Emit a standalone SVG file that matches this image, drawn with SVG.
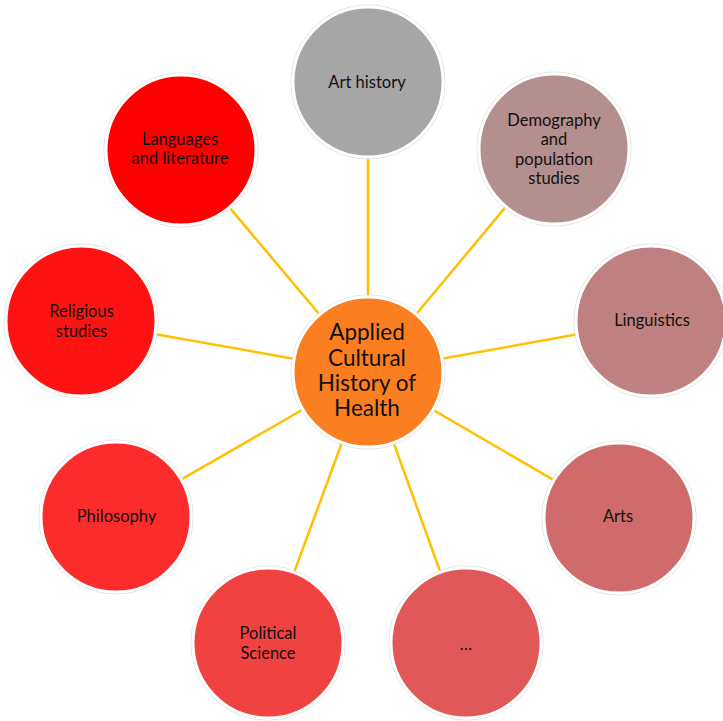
<svg xmlns="http://www.w3.org/2000/svg" width="723" height="721" viewBox="0 0 723 721">
<style>
.bg{fill:#ffffff}
.halo{fill:none;stroke:#d9d9d9;stroke-width:0.8}
.node{stroke:#ffffff;stroke-width:3}
.lbl{font-family:Lato,"Open Sans","Liberation Sans",sans-serif;font-size:16.5px;fill:#111111;text-anchor:middle}
.ctr{font-size:22.5px}
.conn line{stroke:#FFC000;stroke-width:2.5}
</style>
<rect class="bg" x="0" y="0" width="723" height="721"/>
<g id="connectors" class="conn">
<line x1="368" y1="372" x2="368" y2="82"/>
<line x1="368" y1="372" x2="554" y2="149"/>
<line x1="368" y1="372" x2="651" y2="321"/>
<line x1="368" y1="372" x2="619" y2="518"/>
<line x1="368" y1="372" x2="466" y2="643"/>
<line x1="368" y1="372" x2="268" y2="643"/>
<line x1="368" y1="372" x2="116" y2="517"/>
<line x1="368" y1="372" x2="81" y2="321"/>
<line x1="368" y1="372" x2="181" y2="150"/>
</g>
<g id="center">
<circle class="halo" cx="368" cy="372" r="77"/>
<circle class="node" cx="368" cy="372" r="75" fill="#FB7F21"/>
<text class="lbl ctr" x="367" y="340">Applied</text>
<text class="lbl ctr" x="367" y="365.5">Cultural</text>
<text class="lbl ctr" x="367" y="391">History of</text>
<text class="lbl ctr" x="367" y="416">Health</text>
</g>
<g id="art-history">
<circle class="halo" cx="368" cy="82" r="77"/>
<circle class="node" cx="368" cy="82" r="75" fill="#A6A6A6"/>
<text class="lbl" x="367" y="88">Art history</text>
</g>
<g id="demography">
<circle class="halo" cx="554" cy="149" r="77"/>
<circle class="node" cx="554" cy="149" r="75" fill="#B48F8F"/>
<text class="lbl" x="554" y="126">Demography</text>
<text class="lbl" x="554" y="145">and</text>
<text class="lbl" x="554" y="164.5">population</text>
<text class="lbl" x="554" y="184">studies</text>
</g>
<g id="linguistics">
<circle class="halo" cx="651" cy="321" r="77"/>
<circle class="node" cx="651" cy="321" r="75" fill="#BE8080"/>
<text class="lbl" x="652" y="326">Linguistics</text>
</g>
<g id="arts">
<circle class="halo" cx="619" cy="518" r="77"/>
<circle class="node" cx="619" cy="518" r="75" fill="#D06B6B"/>
<text class="lbl" x="618" y="522">Arts</text>
</g>
<g id="etc">
<circle class="halo" cx="466" cy="643" r="77"/>
<circle class="node" cx="466" cy="643" r="75" fill="#E05858"/>
<text class="lbl" x="466" y="650">…</text>
</g>
<g id="political-science">
<circle class="halo" cx="268" cy="643" r="77"/>
<circle class="node" cx="268" cy="643" r="75" fill="#F14242"/>
<text class="lbl" x="268" y="639">Political</text>
<text class="lbl" x="268" y="659">Science</text>
</g>
<g id="philosophy">
<circle class="halo" cx="116" cy="517" r="77"/>
<circle class="node" cx="116" cy="517" r="75" fill="#FC2C2C"/>
<text class="lbl" x="116.5" y="522">Philosophy</text>
</g>
<g id="religious-studies">
<circle class="halo" cx="81" cy="321" r="77"/>
<circle class="node" cx="81" cy="321" r="75" fill="#FE1212"/>
<text class="lbl" x="81.5" y="317">Religious</text>
<text class="lbl" x="81.5" y="337">studies</text>
</g>
<g id="languages-literature">
<circle class="halo" cx="181" cy="150" r="77"/>
<circle class="node" cx="181" cy="150" r="75" fill="#FF0000"/>
<text class="lbl" x="180" y="145">Languages</text>
<text class="lbl" x="180" y="164">and literature</text>
</g>
</svg>
